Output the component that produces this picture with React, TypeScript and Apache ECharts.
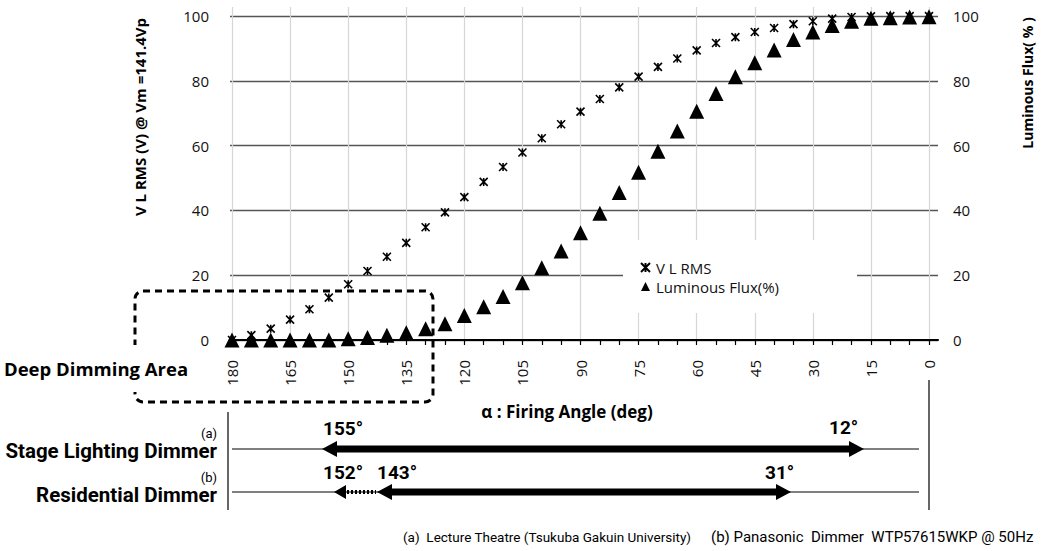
import React, { useEffect, useRef } from 'react';
import * as echarts from 'echarts';

// Firing angle (deg), from 180 down to 0
const angles = [180, 175, 170, 165, 160, 155, 150, 145, 140, 135, 130, 125, 120, 115, 110, 105, 100, 95, 90, 85, 80, 75, 70, 65, 60, 55, 50, 45, 40, 35, 30, 25, 20, 15, 10, 5, 0];
// V L RMS (V) @ Vm = 141.4Vp
const vRms = [0, 1.5, 3.5, 6.3, 9.5, 13.1, 17.2, 21.3, 25.7, 30.0, 34.8, 39.4, 44.1, 48.8, 53.4, 57.9, 62.3, 66.6, 70.5, 74.4, 78.0, 81.3, 84.3, 86.9, 89.4, 91.7, 93.5, 95.1, 96.3, 97.5, 98.4, 99.2, 99.7, 99.9, 100, 100, 100];
// Luminous flux (%)
const flux = [0, 0, 0, 0, 0, 0, 0.4, 0.8, 1.5, 2.2, 3.5, 5.0, 7.6, 10.3, 13.4, 17.7, 22.3, 27.5, 33.1, 39.1, 45.5, 51.8, 58.3, 64.5, 70.6, 76.1, 81.3, 85.6, 89.5, 92.8, 95.1, 97.1, 98.4, 99.3, 99.5, 99.7, 99.8];

const seriesNames = ['V L RMS', 'Luminous Flux(%)'];
const leftAxisTitle = 'V L RMS (V) @ Vm =141.4Vp';
const rightAxisTitle = 'Luminous Flux( % )';
const xAxisTitle = '\u03b1 : Firing Angle (deg)';

const starPath = 'path://M0,0L10,10M10,0L0,10M5,0L5,10';
const FONT = "'Open Sans', sans-serif";
const NARROW = "Roboto, sans-serif";

function dblArrow(x1: number, x2: number, y: number, head = 15, hh = 8, bh = 3.5) {
  return [
    [x1, y], [x1 + head, y - hh], [x1 + head, y - bh], [x2 - head, y - bh], [x2 - head, y - hh],
    [x2, y], [x2 - head, y + hh], [x2 - head, y + bh], [x1 + head, y + bh], [x1 + head, y + hh],
  ];
}

export default function App() {
  const ref = useRef<HTMLDivElement>(null);
  useEffect(() => {
    if (!ref.current) return;
    const chart = echarts.init(ref.current, null, { renderer: 'svg' });
    const txt = (text: string, x: number, y: number, size: number, opts: any = {}) => ({
      type: 'text', x, y, z: 20, rotation: opts.rotation || 0,
      style: {
        text, fontSize: size, fontWeight: opts.bold ? 'bold' : 'normal', fontFamily: opts.family || FONT,
        fill: '#000', textAlign: opts.align || 'left', textVerticalAlign: 'middle',
      },
    });
    const hline = (x1: number, x2: number, y: number, w = 1) => ({
      type: 'line', z: 20, shape: { x1, y1: y, x2, y2: y }, style: { stroke: '#000', lineWidth: w },
    });
    const vline = (x: number, y1: number, y2: number) => ({
      type: 'line', z: 20, shape: { x1: x, y1, x2: x, y2 }, style: { stroke: '#000', lineWidth: 1.2 },
    });
    chart.setOption({
      animation: false,
      textStyle: { fontFamily: FONT },
      grid: [
        { left: 232, right: 112, top: 7, bottom: 211 },
        { left: 230, right: 103, top: 16, bottom: 211 },
      ],
      xAxis: [
        {
          gridIndex: 0, type: 'value', inverse: true, min: 0, max: 180, interval: 15,
          axisLine: { show: false },
          axisTick: { show: true, length: 5, lineStyle: { color: '#000', width: 1.2 } },
          minorTick: { show: true, splitNumber: 3, length: 5, lineStyle: { color: '#000', width: 1.2 } },
          splitLine: { show: true, lineStyle: { color: '#d6d6d6', width: 1.2 } },
          axisLabel: { rotate: 90, margin: 20, fontSize: 15, color: '#111' },
        },
        {
          gridIndex: 1, type: 'value', min: 0, max: 1,
          axisLine: { show: true, lineStyle: { color: '#000', width: 2 } },
          axisTick: { show: false }, axisLabel: { show: false }, splitLine: { show: false },
        },
      ],
      yAxis: [
        { gridIndex: 0, type: 'value', min: 0, max: 102.8, show: false },
        { gridIndex: 0, type: 'value', min: 0, max: 102.8, show: false, position: 'right' },
        {
          gridIndex: 1, type: 'value', min: 0, max: 100, interval: 20, position: 'left',
          axisLine: { show: false }, axisTick: { show: false },
          splitLine: { show: true, lineStyle: { color: '#555', width: 1.4 } },
          axisLabel: { margin: 21, fontSize: 15, color: '#111' },
        },
        {
          gridIndex: 1, type: 'value', min: 0, max: 100, interval: 20, position: 'right',
          axisLine: { show: false }, axisTick: { show: false }, splitLine: { show: false },
          axisLabel: { margin: 15, fontSize: 15, color: '#111' },
        },
      ],
      legend: {
        orient: 'vertical', left: 640, top: 260, padding: 0, itemGap: 4,
        itemWidth: 9, itemHeight: 9,
        textStyle: { fontSize: 15, color: '#111', fontFamily: FONT, padding: [0, 0, 0, 1] },
        data: seriesNames,
      },
      series: [
        {
          name: seriesNames[0], type: 'scatter', xAxisIndex: 0, yAxisIndex: 0,
          data: angles.map((a, i) => [a, vRms[i]]),
          symbol: starPath, symbolSize: 8,
          itemStyle: { color: '#000', borderColor: '#000', borderWidth: 1.6, opacity: 1 },
        },
        {
          name: seriesNames[1], type: 'scatter', xAxisIndex: 0, yAxisIndex: 1,
          data: angles.map((a, i) => [a, flux[i]]),
          symbol: 'triangle', symbolSize: 15,
          itemStyle: { color: '#000', opacity: 1 },
        },
      ],
      graphic: [
        { type: 'rect', z: 1, shape: { x: 623, y: 240, width: 234, height: 73 }, style: { fill: '#fff' } },
        txt(leftAxisTitle, 140, 117, 15, { bold: true, rotation: Math.PI / 2, align: 'center' }),
        txt(rightAxisTitle, 1027, 83, 14, { bold: true, rotation: Math.PI / 2, align: 'center' }),
        { type: 'rect', z: 15, shape: { x: 135, y: 291, width: 298, height: 111, r: 8 }, style: { fill: 'none', stroke: '#000', lineWidth: 3, lineDash: [7, 5] } },
        { type: 'rect', z: 16, shape: { x: 0, y: 345, width: 195, height: 47 }, style: { fill: '#fff' } },
        txt('Deep Dimming Area', 4, 368, 18.5, { bold: true }),
        txt(xAxisTitle, 567, 411, 17, { bold: true, align: 'center' }),
        vline(228, 412, 510),
        vline(929, 380, 510),
        txt('(a)', 217, 433, 13, { align: 'right', family: NARROW }),
        txt('Stage Lighting Dimmer', 217, 451, 20.5, { bold: true, align: 'right', family: NARROW }),
        hline(232, 919, 449),
        { type: 'polygon', z: 20, shape: { points: dblArrow(322, 864, 449) }, style: { fill: '#000' } },
        txt('155\u00b0', 323, 428, 19, { bold: true, family: NARROW }),
        txt('12\u00b0', 829, 427, 19, { bold: true, family: NARROW }),
        txt('(b)', 217, 477, 13, { align: 'right', family: NARROW }),
        txt('Residential Dimmer', 217, 495, 20.5, { bold: true, align: 'right', family: NARROW }),
        hline(232, 919, 492),
        { type: 'polygon', z: 20, shape: { points: dblArrow(377, 791, 492) }, style: { fill: '#000' } },
        { type: 'polygon', z: 20, shape: { points: [[334, 492], [346, 485], [346, 499]] }, style: { fill: '#000' } },
        { type: 'line', z: 20, shape: { x1: 347, y1: 492, x2: 376, y2: 492 }, style: { stroke: '#000', lineWidth: 4, lineDash: [2, 2] } },
        txt('152\u00b0', 323, 472, 19, { bold: true, family: NARROW }),
        txt('143\u00b0', 377, 472, 19, { bold: true, family: NARROW }),
        txt('31\u00b0', 765, 472, 19, { bold: true, family: NARROW }),
        txt('(a)  Lecture Theatre (Tsukuba Gakuin University)', 403, 537, 13.5, { family: NARROW }),
        txt('(b) Panasonic  Dimmer  WTP57615WKP @ 50Hz', 711, 537, 15, { family: NARROW }),
      ],
    });
    return () => chart.dispose();
  }, []);
  return (
    <div
      ref={ref}
      style={{ position: 'absolute', left: 0, top: 0, width: 1041, height: 551, background: '#fff' }}
    />
  );
}
